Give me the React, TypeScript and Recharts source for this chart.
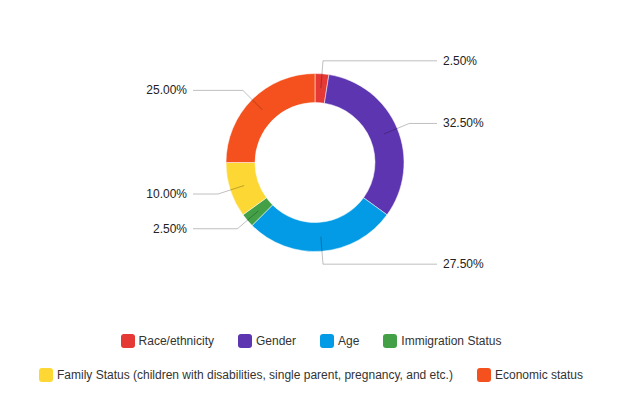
import { PieChart, Pie, Cell, Legend } from 'recharts';

document.body.style.margin = '0';

const categories = [
  'Race/ethnicity',
  'Gender',
  'Age',
  'Immigration Status',
  'Family Status (children with disabilities, single parent, pregnancy, and etc.)',
  'Economic status',
];
const shares = [2.5, 32.5, 27.5, 2.5, 10, 25];
const colors = ['#e53935', '#5e35b1', '#039be5', '#43a047', '#fdd835', '#f4511e'];

const data = categories.map((name, i) => ({ name, value: shares[i] }));

const RAD = Math.PI / 180;
const FONT = '"Liberation Sans", Arial, sans-serif';

function renderLabel(props: any) {
  const { cx, cy, midAngle, innerRadius, outerRadius, value } = props;
  const cos = Math.cos(-midAngle * RAD);
  const sin = Math.sin(-midAngle * RAD);
  const r0 = (innerRadius + outerRadius) / 2;
  const r1 = outerRadius + 13;
  const x0 = cx + r0 * cos;
  const y0 = cy + r0 * sin;
  const x1 = cx + r1 * cos;
  const y1 = cy + r1 * sin;
  const right = cos >= 0;
  const x2 = right ? cx + 122 : cx - 122;
  const tx = right ? x2 + 6 : x2 - 6;
  return (
    <g>
      <path
        d={`M${x0},${y0}L${x1},${y1}L${x2},${y1}`}
        stroke="#000"
        strokeOpacity={0.25}
        fill="none"
      />
      <text
        x={tx}
        y={y1}
        textAnchor={right ? 'start' : 'end'}
        dominantBaseline="central"
        fill="#222"
        fontSize={12}
        fontFamily={FONT}
      >
        {value.toFixed(2)}%
      </text>
    </g>
  );
}

function renderLegend() {
  return (
    <div
      style={{
        display: 'flex',
        flexWrap: 'wrap',
        justifyContent: 'center',
        fontFamily: FONT,
        fontSize: 12,
        color: '#333',
      }}
    >
      {categories.map((name, i) => (
        <div
          key={name}
          style={{ display: 'flex', alignItems: 'center', height: 34, margin: '0 12px' }}
        >
          <span
            style={{
              width: 14,
              height: 14,
              borderRadius: 3,
              background: colors[i],
              marginRight: 4,
              display: 'inline-block',
            }}
          />
          <span>{name}</span>
        </div>
      ))}
    </div>
  );
}

export default function App() {
  return (
    <PieChart width={630} height={393}>
      <Pie
        data={data}
        dataKey="value"
        nameKey="name"
        cx={310}
        cy={157.5}
        innerRadius={60}
        outerRadius={89}
        startAngle={90}
        endAngle={-270}
        stroke="#fff"
        strokeWidth={0.5}
        label={renderLabel}
        labelLine={false}
        isAnimationActive={false}
      >
        {data.map((d, i) => (
          <Cell key={d.name} fill={colors[i]} />
        ))}
      </Pie>
      <Legend
        content={renderLegend}
        wrapperStyle={{ top: 324, left: 0, width: 622 }}
      />
    </PieChart>
  );
}
